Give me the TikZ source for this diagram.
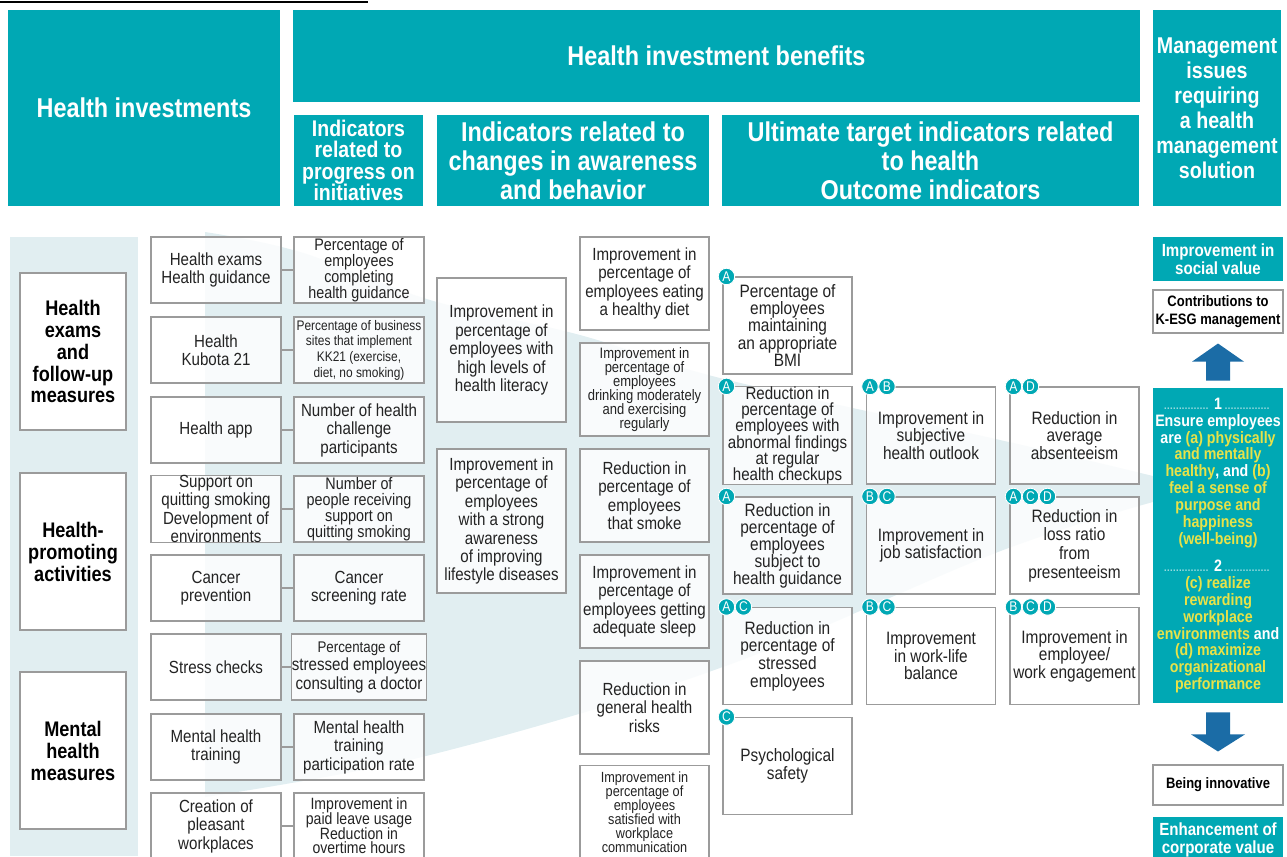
\documentclass[tikz,border=0pt]{standalone}
\usepackage{fontspec}
\setmainfont{Liberation Sans}[FakeStretch=0.86]
\usepackage{tikz}
\usetikzlibrary{calc}

% colours
\definecolor{hdrteal}{RGB}{0,168,180}
\definecolor{paleblue}{RGB}{225,238,241}
\definecolor{boxgray}{RGB}{155,155,155}
\definecolor{txtgray}{RGB}{35,35,35}
\definecolor{goalyellow}{RGB}{232,226,72}
\definecolor{dotcyan}{RGB}{170,225,228}
\definecolor{arrowblue}{RGB}{27,108,166}

% keep line distances fixed in crowded boxes
\newcommand{\squeeze}{\lineskiplimit=-20pt\lineskip=0pt}
\newcommand{\dotrun}{\makebox[0.95cm]{\fontsize{6}{6}\selectfont\leaders\hbox to 1.7pt{\hss.\hss}\hfill}}
\newcommand{\goalsep}[1]{\textcolor{dotcyan}{\dotrun}\,#1\,\textcolor{dotcyan}{\dotrun}}
\newcommand{\yl}[1]{\textcolor{goalyellow}{#1}}

% small lettered circles on the outcome boxes
\newcommand{\putbadges}[2]{%
  \foreach \l [count=\k] in {#2} {
    \node[badge] (#1-b\k) at ($(#1.north west)+({4+17*(\k-1)},0)$) {\l};
  }}

\tikzset{
  boxsize/.style 2 args={minimum width=#1*0.02cm, minimum height=#2*0.02cm},
  hdr/.style={fill=hdrteal, text=white, align=center, inner sep=0pt,
    font=\fontsize{15.5}{16.5}\selectfont\bfseries},
  subhdr/.style={hdr, font=\fontsize{12.9}{12.1}\selectfont\bfseries},
  cell/.style={draw=boxgray, line width=0.6pt, fill=white, fill opacity=0.8,
    text opacity=1, text=txtgray, align=center, inner sep=0pt,
    font=\fontsize{10}{10.5}\selectfont\squeeze},
  tight/.style={cell, font=\fontsize{9.5}{9.2}\selectfont\squeeze},
  dense/.style={cell, font=\fontsize{8.4}{8}\selectfont\squeeze},
  smallcell/.style={cell, font=\fontsize{7.9}{8.9}\selectfont\squeeze},
  lastrow/.style={cell, font=\fontsize{9.3}{8.4}\selectfont\squeeze},
  catbox/.style={cell, fill opacity=1, text=black,
    font=\fontsize{12}{12.5}\selectfont\bfseries},
  outcome/.style={cell, font=\fontsize{10.2}{10}\selectfont\squeeze},
  badge/.style={circle, fill=hdrteal, draw=white, line width=0.5pt, text=white,
    inner sep=0pt, minimum size=0.33cm, font=\fontsize{8}{8}\selectfont},
  link/.style={draw=boxgray, line width=0.6pt},
  sidebox/.style={hdr, font=\fontsize{10}{10.2}\selectfont\bfseries},
  sidewhite/.style={cell, fill opacity=1, text=black,
    font=\fontsize{8.6}{10}\selectfont\bfseries},
}

\begin{document}
\begin{tikzpicture}[x=0.02cm, y=-0.02cm]
  \useasboundingbox (0,0) rectangle (1287,856);
  \clip (0,0) rectangle (1287,856);

  % Cut-off title rule at the top
  \draw[black, line width=1.1pt] (0,2) -- (368,2);

  % Header blocks
  \node[hdr, boxsize={272}{196}] (invest) at (144,108) {Health investments};
  \node[hdr, boxsize={847}{92}] (benefit) at (716.5,56) {Health investment benefits};
  \node[subhdr, boxsize={129}{91}] (progress) at (358.5,160.5)
    {Indicators\\related to\\progress on\\initiatives};
  \node[hdr, boxsize={272}{91}] (aware) at (573,160.5)
    {Indicators related to\\changes in awareness\\and behavior};
  \node[hdr, boxsize={417}{91}] (ultimate) at (930.5,160.5)
    {Ultimate target indicators related\\to health\\Outcome indicators};
  \node[hdr, boxsize={128}{196}, font=\fontsize{13}{14.2}\selectfont\bfseries]
    (mgmt) at (1217,108) {Management\\issues\\requiring\\a health\\management\\solution};

  % Light background shapes
  \fill[paleblue] (10,237) rectangle (138,856);
  \fill[paleblue] (205,232) -- plot[smooth, tension=0.6] coordinates
      {(205,232) (300,252) (430,300) (580,335) (720,378) (1000,440) (1153,476)}
    -- (1153,502) -- plot[smooth, tension=0.6] coordinates
      {(1153,502) (998,552) (720,668) (430,755) (205,797)} -- cycle;

  % Categories of health investment
  \node[catbox, boxsize={106}{157}] (cat1) at (73,351.5)
    {Health\\exams\\and\\follow-up\\measures};
  \node[catbox, boxsize={106}{157}] (cat2) at (73,551.5)
    {Health-\\promoting\\activities};
  \node[catbox, boxsize={106}{157}] (cat3) at (73,750.5)
    {Mental\\health\\measures};

  % Initiatives and their progress indicators
  \foreach \i/\cy/\sty/\ini/\ind in {
    1/270/tight/{Health exams\\Health guidance}/{Percentage of\\employees\\completing\\health guidance},
    2/350/smallcell/{Health\\Kubota 21}/{Percentage of business\\sites that implement\\KK21 (exercise,\\diet, no smoking)},
    3/430/cell/{Health app}/{Number of health\\challenge\\participants},
    4/509/tight/{Support on\\quitting smoking\\Development of\\environments}/{Number of\\people receiving\\support on\\quitting smoking},
    5/588/cell/{Cancer\\prevention}/{Cancer\\screening rate},
    6/667/cell/{Stress checks}/{\fontsize{8.8}{10.6}\selectfont Percentage of\\stressed employees\\consulting a doctor},
    7/747/cell/{Mental health\\training}/{Mental health\\training\\participation rate},
    8/826/lastrow/{Creation of\\pleasant\\workplaces}/{Improvement in\\paid leave usage\\Reduction in\\overtime hours}} {
    \node[cell, boxsize={130}{66}] (ini\i) at (216,\cy) {\ini};
    \node[\sty, boxsize={130}{66}] (ind\i) at (359,\cy) {\ind};
    \draw[link] (ini\i.east) -- (ind\i.west);
  }

  % Awareness indicators
  \node[cell, boxsize={129}{144}] (aw1) at (501.5,350)
    {Improvement in\\percentage of\\employees with\\high levels of\\health literacy};
  \node[cell, boxsize={129}{144}] (aw2) at (501.5,521)
    {Improvement in\\percentage of\\employees\\with a strong\\awareness\\of improving\\lifestyle diseases};

  % Behaviour indicators
  \node[cell, boxsize={129}{93}] (bh1) at (644.5,283.5)
    {Improvement in\\percentage of\\employees eating\\a healthy diet};
  \node[dense, boxsize={129}{93}, font=\fontsize{8.6}{8}\selectfont\squeeze] (bh2) at (644.5,389.5)
    {Improvement in\\percentage of\\employees\\drinking moderately\\and exercising\\regularly};
  \node[cell, boxsize={129}{93}] (bh3) at (644.5,495.5)
    {Reduction in\\percentage of\\employees\\that smoke};
  \node[cell, boxsize={129}{93}] (bh4) at (644.5,601.5)
    {Improvement in\\percentage of\\employees getting\\adequate sleep};
  \node[cell, boxsize={129}{93}] (bh5) at (644.5,707.5)
    {Reduction in\\general health\\risks};
  \node[dense, boxsize={129}{93}] (bh6) at (644.5,812)
    {Improvement in\\percentage of\\employees\\satisfied with\\workplace\\communication};

  % Outcome indicators
  \node[outcome, boxsize={129}{97}, font=\fontsize{10.2}{9.7}\selectfont\squeeze] (oa1) at (787.5,325.5)
    {Percentage of\\employees\\maintaining\\an appropriate\\BMI};
  \node[outcome, boxsize={129}{97}, font=\fontsize{10}{9.2}\selectfont\squeeze] (oa2) at (787.5,435.5)
    {Reduction in\\percentage of\\employees with\\abnormal findings\\at regular\\health checkups};
  \node[outcome, boxsize={129}{97}] (ob2) at (931,435.5)
    {Improvement in\\subjective\\health outlook};
  \node[outcome, boxsize={129}{97}] (oc2) at (1074.5,435.5)
    {Reduction in\\average\\absenteeism};
  \node[outcome, boxsize={129}{97}, font=\fontsize{10.2}{9.7}\selectfont\squeeze] (oa3) at (787.5,545.5)
    {Reduction in\\percentage of\\employees\\subject to\\health guidance};
  \node[outcome, boxsize={129}{97}] (ob3) at (931,545.5)
    {Improvement in\\job satisfaction};
  \node[outcome, boxsize={129}{97}, font=\fontsize{10.2}{10.6}\selectfont\squeeze] (oc3) at (1074.5,545.5)
    {Reduction in\\loss ratio\\from\\presenteeism};
  \node[outcome, boxsize={129}{97}] (oa4) at (787.5,656)
    {Reduction in\\percentage of\\stressed\\employees};
  \node[outcome, boxsize={129}{97}] (ob4) at (931,656)
    {Improvement\\in work-life\\balance};
  \node[outcome, boxsize={129}{97}] (oc4) at (1074.5,656)
    {Improvement in\\employee/\\work engagement};
  \node[outcome, boxsize={129}{97}] (oa5) at (787.5,766)
    {Psychological\\safety};

  \putbadges{oa1}{A}
  \putbadges{oa2}{A}
  \putbadges{ob2}{A,B}
  \putbadges{oc2}{A,D}
  \putbadges{oa3}{A}
  \putbadges{ob3}{B,C}
  \putbadges{oc3}{A,C,D}
  \putbadges{oa4}{A,C}
  \putbadges{ob4}{B,C}
  \putbadges{oc4}{B,C,D}
  \putbadges{oa5}{C}

  % Right-hand column
  \node[sidebox, boxsize={130}{44}] (social) at (1218,259) {Improvement in\\social value};
  \node[sidewhite, boxsize={130}{43}] (kesg) at (1218,311.5) {Contributions to\\K-ESG management};
  \node[sidebox, boxsize={130}{315}, font=\fontsize{9.4}{9.6}\selectfont\bfseries]
    (goal) at (1218,545.5) {\goalsep{1}\\
      Ensure employees\\
      are \yl{(a) physically}\\
      \yl{and mentally}\\
      \yl{healthy}, and \yl{(b)}\\
      \yl{feel a sense of}\\
      \yl{purpose and}\\
      \yl{happiness}\\
      \yl{(well-being)}\\[6pt]
      \goalsep{2}\\
      \yl{(c) realize}\\
      \yl{rewarding}\\
      \yl{workplace}\\
      \yl{environments} and\\
      \yl{(d) maximize}\\
      \yl{organizational}\\
      \yl{performance}};
  \node[sidewhite, boxsize={130}{40}] (innov) at (1218,785) {Being innovative};
  \node[sidebox, boxsize={130}{46}] (corp) at (1218,840) {Enhancement of\\corporate value};

  % Block arrows
  \fill[arrowblue] ($(goal.north)+(-12,-7)$) -- ($(goal.north)+(-12,-26)$)
    -- ($(goal.north)+(-26,-26)$) -- ($(kesg.south)+(0,10)$)
    -- ($(goal.north)+(26,-26)$) -- ($(goal.north)+(12,-26)$)
    -- ($(goal.north)+(12,-7)$) -- cycle;
  \fill[arrowblue] ($(goal.south)+(-12,9)$) -- ($(goal.south)+(-12,31)$)
    -- ($(goal.south)+(-27,31)$) -- ($(innov.north)+(0,-13)$)
    -- ($(goal.south)+(27,31)$) -- ($(goal.south)+(12,31)$)
    -- ($(goal.south)+(12,9)$) -- cycle;

\end{tikzpicture}
\end{document}
